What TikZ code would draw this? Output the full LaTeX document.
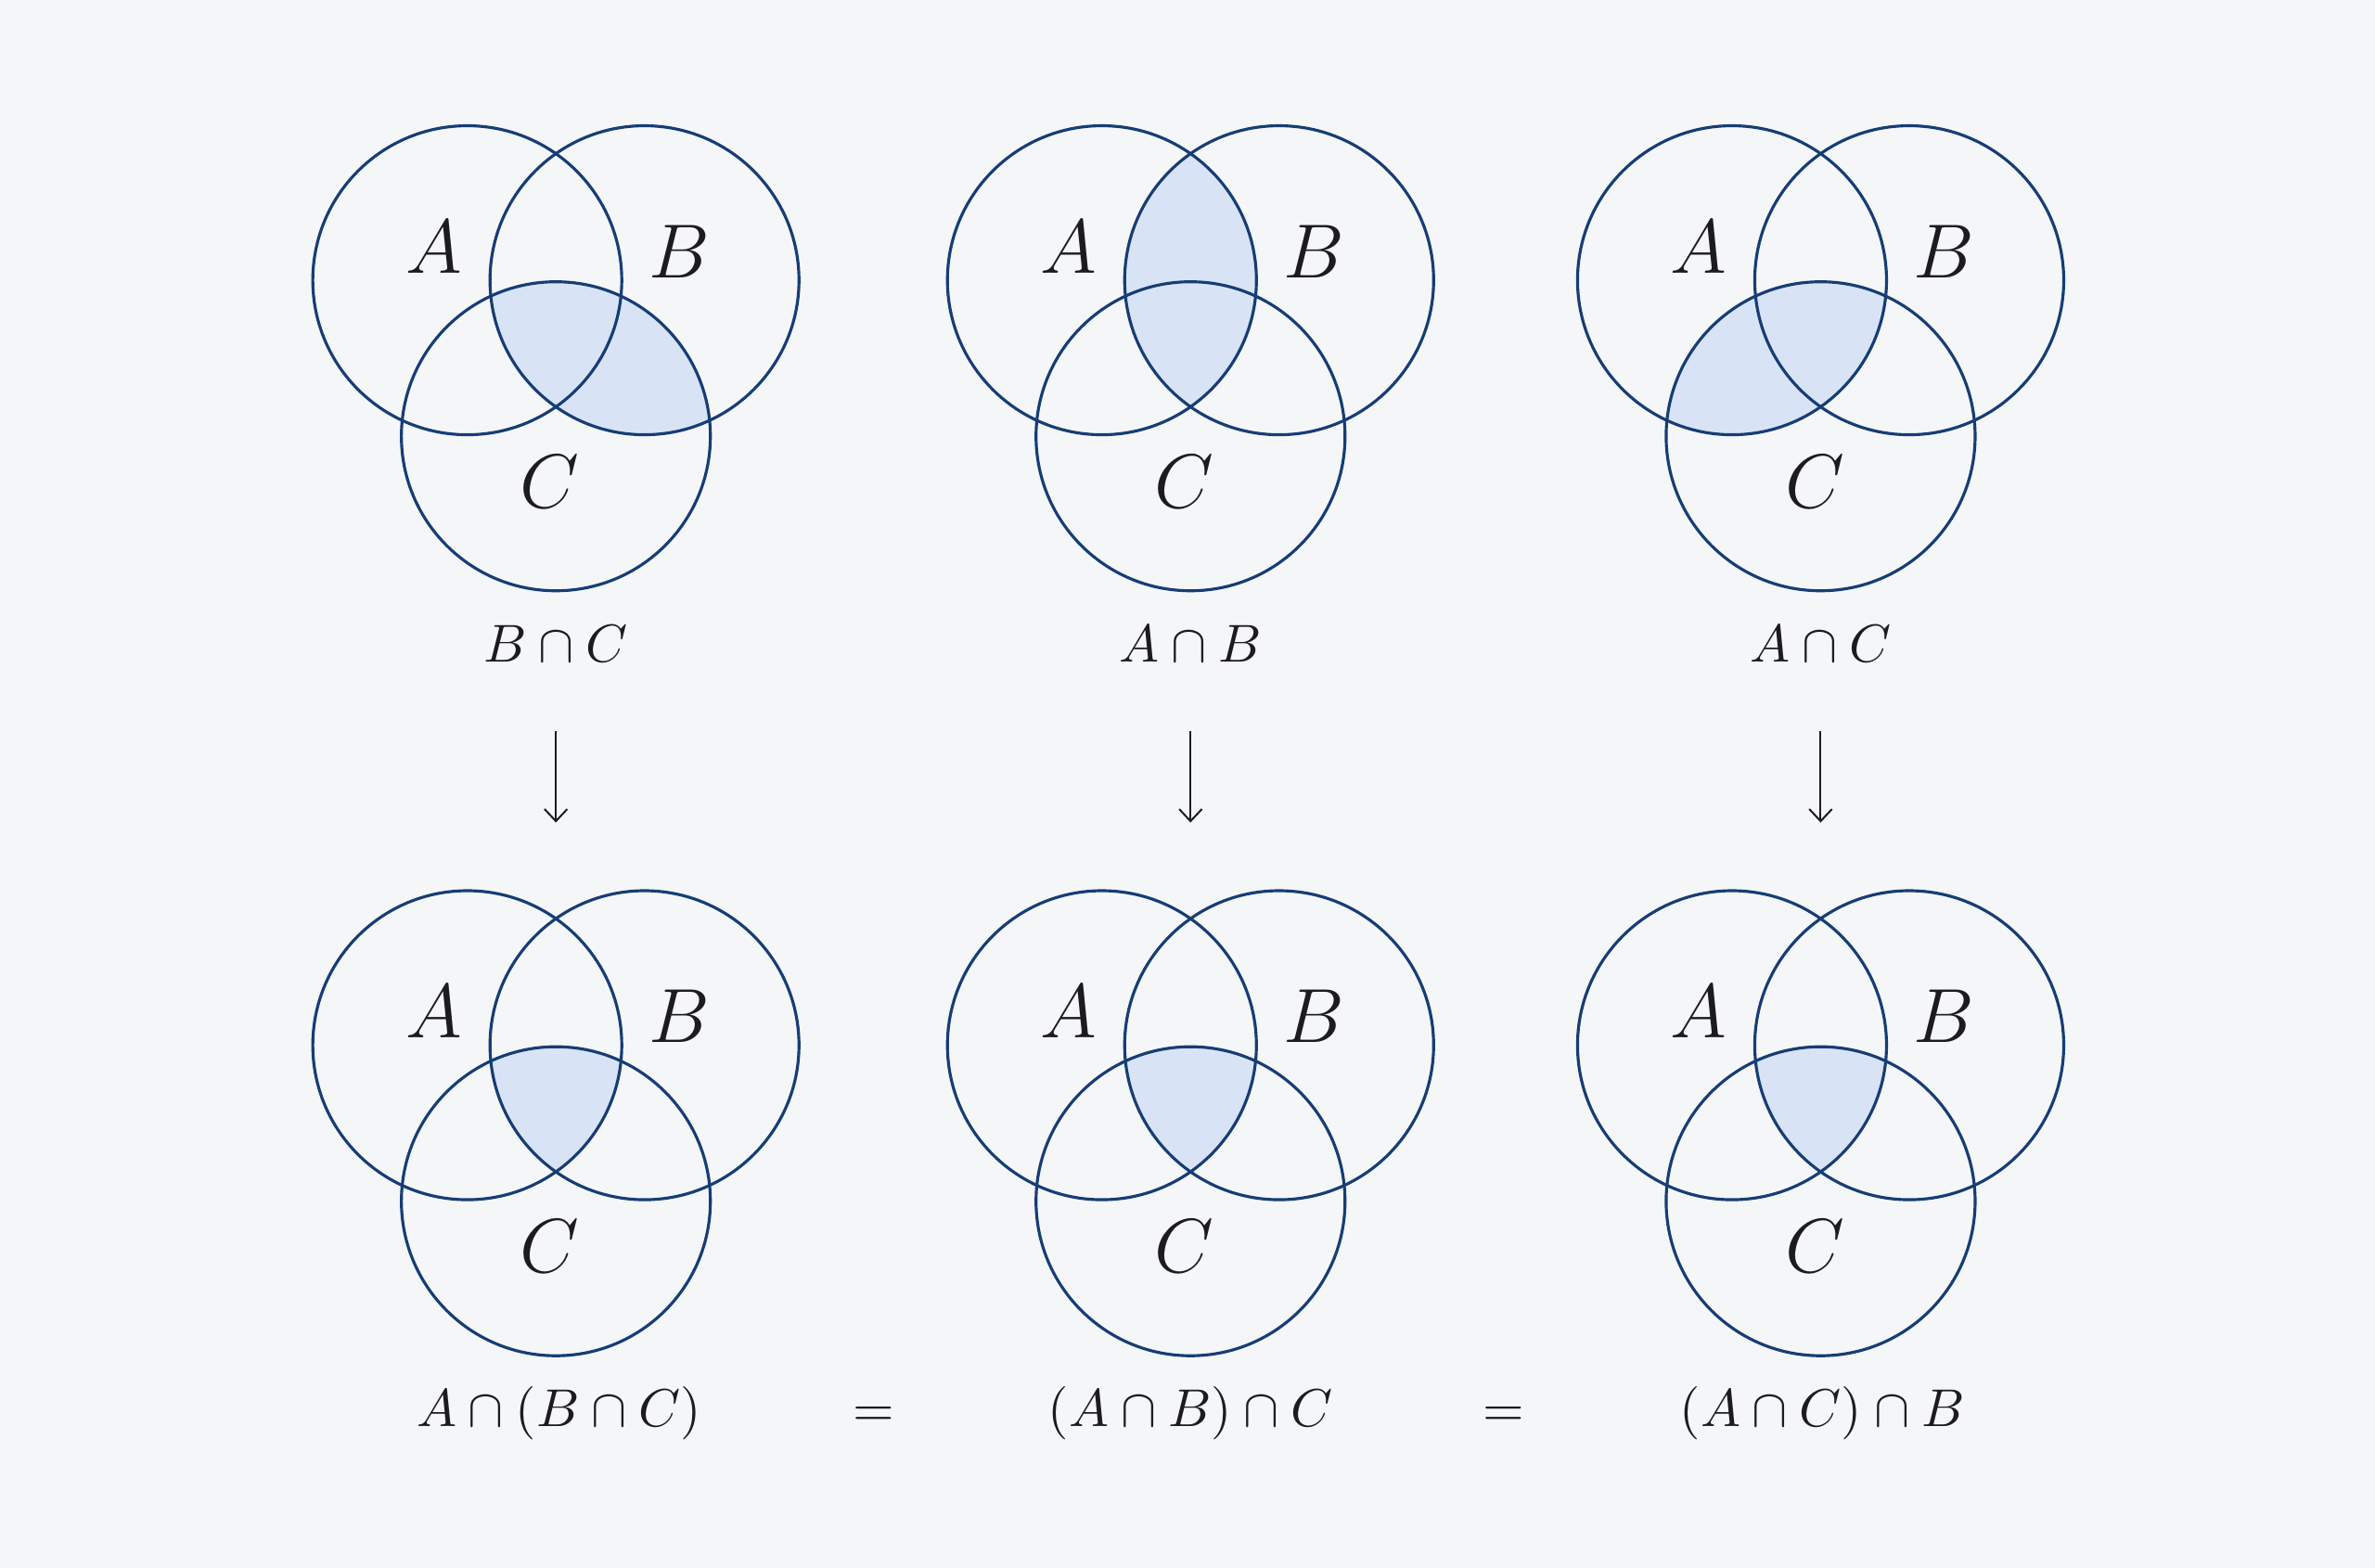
\documentclass[tikz,border=0pt]{standalone}
\usetikzlibrary{arrows.meta}
\definecolor{setblue}{RGB}{22,61,117}
\definecolor{setfill}{RGB}{216,228,245}
\definecolor{bgcol}{RGB}{245,246,248}
\definecolor{inkcol}{RGB}{28,28,32}
\tikzset{
  setline/.style={draw=setblue, line width=0.55pt},
  setarea/.style={fill=setfill},
  setname/.style={inner sep=0pt, text=inkcol, font=\fontsize{13.3}{16}\selectfont},
  caption/.style={inner sep=0pt, text=inkcol, font=\fontsize{9.8}{12}\selectfont},
  downarrow/.style={draw=inkcol, line width=0.35pt, -{Straight Barb[length=0.8mm, width=1.5mm]}},
}
\begin{document}
\begin{tikzpicture}[x=0.1mm, y=-0.1mm]
\useasboundingbox[fill=bgcol] (0,0) rectangle (1568,1035);

% circle centres, top row (t) and bottom row (u)
\foreach \i/\x in {1/367, 2/786, 3/1202} {
  \coordinate (ta\i) at (\x-58.5,185);
  \coordinate (tb\i) at (\x+58.5,185);
  \coordinate (tc\i) at (\x,288);
  \coordinate (ua\i) at (\x-58.5,690);
  \coordinate (ub\i) at (\x+58.5,690);
  \coordinate (uc\i) at (\x,793);
}

% shaded regions, top row
\begin{scope}
  \clip (tb1) circle[radius=10.2mm];
  \fill[setarea] (tc1) circle[radius=10.2mm];
\end{scope}
\begin{scope}
  \clip (ta2) circle[radius=10.2mm];
  \fill[setarea] (tb2) circle[radius=10.2mm];
\end{scope}
\begin{scope}
  \clip (ta3) circle[radius=10.2mm];
  \fill[setarea] (tc3) circle[radius=10.2mm];
\end{scope}

% shaded regions, bottom row
\foreach \i in {1,2,3} {
  \begin{scope}
    \clip (ua\i) circle[radius=10.2mm];
    \clip (ub\i) circle[radius=10.2mm];
    \fill[setarea] (uc\i) circle[radius=10.2mm];
  \end{scope}
}

% circles and set names
\foreach \i in {1,2,3} {
  \foreach \r in {t,u} {
    \draw[setline] (\r a\i) circle[radius=10.2mm];
    \draw[setline] (\r b\i) circle[radius=10.2mm];
    \draw[setline] (\r c\i) circle[radius=10.2mm];
    \node[setname] (\r la\i) at ([shift={(-22,-22)}]\r a\i) {$A$};
    \node[setname] (\r lb\i) at ([shift={(23,-19)}]\r b\i) {$B$};
    \node[setname] (\r lc\i) at ([shift={(-4,30)}]\r c\i) {$C$};
  }
}

% captions
\node[caption] (cap1) at (367,425) {$B\cap C$};
\node[caption] (cap2) at (786,425) {$A\cap B$};
\node[caption] (cap3) at (1202,425) {$A\cap C$};

\node[caption] (res1) at (369,933) {$A\cap(B\cap C)$};
\node[caption] (eq1) at (577,935) {$=$};
\node[caption] (res2) at (786,933) {$(A\cap B)\cap C$};
\node[caption] (eq2) at (993,935) {$=$};
\node[caption] (res3) at (1203,933) {$(A\cap C)\cap B$};

% arrows
\coordinate (end1) at (367,543);
\coordinate (end2) at (786,543);
\coordinate (end3) at (1202,543);
\draw[downarrow, shorten <=4.5mm] (cap1.south) -- (end1);
\draw[downarrow, shorten <=4.5mm] (cap2.south) -- (end2);
\draw[downarrow, shorten <=4.5mm] (cap3.south) -- (end3);
\end{tikzpicture}
\end{document}
